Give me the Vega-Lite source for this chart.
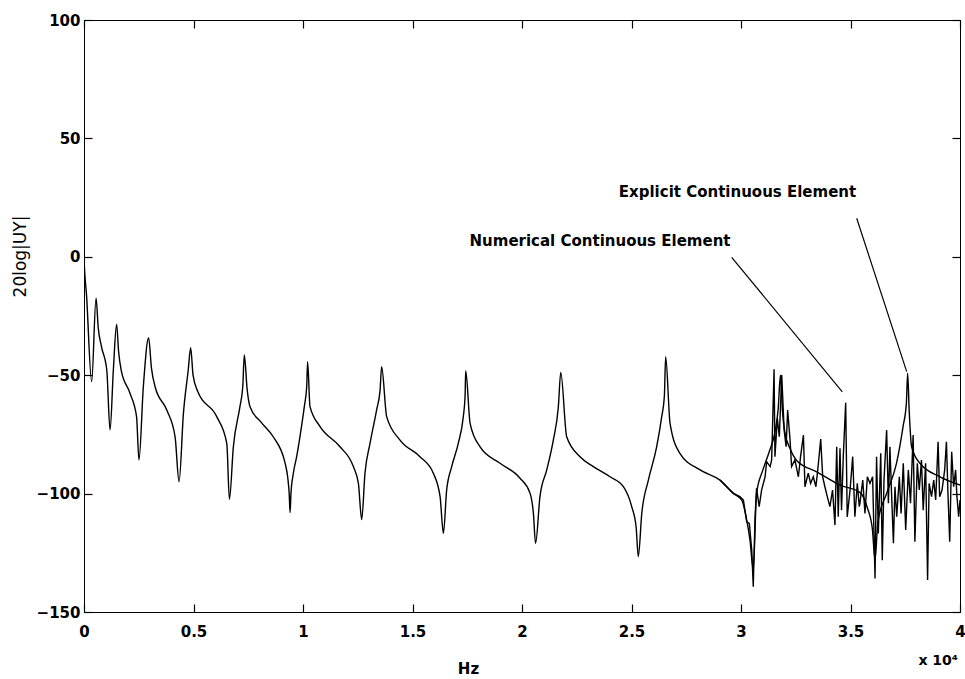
{
  "$schema": "https://vega.github.io/schema/vega-lite/v6.json",
  "width": 876,
  "height": 592,
  "autosize": {"type": "none"},
  "padding": {"left": 84, "top": 20, "right": 5, "bottom": 67},
  "background": "white",
  "config": {
    "view": {"stroke": "black", "strokeWidth": 1},
    "axis": {
      "domain": true, "domainColor": "black", "domainWidth": 1, "ticks": true, "tickColor": "black",
      "labelColor": "black", "titleColor": "black",
      "grid": false, "tickSize": -8, "tickWidth": 1.2, "zindex": 1,
      "labelFont": "DejaVu Sans", "labelFontWeight": "bold", "labelFontSize": 15,
      "titleFont": "DejaVu Sans", "labelFlush": false, "labelOverlap": false
    }
  },
  "datasets": {
    "explicit": [
      {"hz": 0, "db": 45}, {"hz": 1, "db": 0}, {"hz": 120, "db": -16.8}, {"hz": 350, "db": -52.7},
      {"hz": 550, "db": -17.5}, {"hz": 650, "db": -30}, {"hz": 800, "db": -38}, {"hz": 1040, "db": -47.8}, {"hz": 1190, "db": -73.1},
      {"hz": 1340, "db": -47.8}, {"hz": 1490, "db": -28.5}, {"hz": 1580, "db": -40}, {"hz": 1700, "db": -48}, {"hz": 2100, "db": -57.6},
      {"hz": 2400, "db": -67.5}, {"hz": 2510, "db": -85.8}, {"hz": 2710, "db": -54.8}, {"hz": 2950, "db": -34.2},
      {"hz": 3080, "db": -47}, {"hz": 3250, "db": -55}, {"hz": 3780, "db": -64.7}, {"hz": 4160, "db": -76}, {"hz": 4340, "db": -95},
      {"hz": 4540, "db": -66.1}, {"hz": 4760, "db": -47.8}, {"hz": 4870, "db": -38.4}, {"hz": 4980, "db": -50}, {"hz": 5200, "db": -57},
      {"hz": 6060, "db": -67.5}, {"hz": 6520, "db": -78.8}, {"hz": 6640, "db": -102.4}, {"hz": 6820, "db": -80.2},
      {"hz": 7120, "db": -63.3}, {"hz": 7250, "db": -54.8}, {"hz": 7320, "db": -41.5}, {"hz": 7450, "db": -56},
      {"hz": 7580, "db": -63.3}, {"hz": 8100, "db": -70}, {"hz": 8640, "db": -76}, {"hz": 9180, "db": -87},
      {"hz": 9300, "db": -93}, {"hz": 9370, "db": -100}, {"hz": 9410, "db": -108}, {"hz": 9450, "db": -100},
      {"hz": 9560, "db": -91.4}, {"hz": 9710, "db": -84.4}, {"hz": 9860, "db": -76}, {"hz": 10060, "db": -63.3},
      {"hz": 10170, "db": -54.8}, {"hz": 10210, "db": -44.3}, {"hz": 10320, "db": -63.3}, {"hz": 10780, "db": -71.7},
      {"hz": 11690, "db": -80.2}, {"hz": 12300, "db": -88.6}, {"hz": 12530, "db": -95.7}, {"hz": 12680, "db": -111},
      {"hz": 12830, "db": -91.4}, {"hz": 13060, "db": -78.8}, {"hz": 13360, "db": -64.7}, {"hz": 13520, "db": -56.3},
      {"hz": 13590, "db": -46.4}, {"hz": 13820, "db": -67.5}, {"hz": 14430, "db": -77.4}, {"hz": 15340, "db": -84.4},
      {"hz": 15950, "db": -91.4}, {"hz": 16260, "db": -101.3}, {"hz": 16410, "db": -116.8}, {"hz": 16560, "db": -98.5},
      {"hz": 16790, "db": -88.6}, {"hz": 17090, "db": -78.8}, {"hz": 17320, "db": -67.5}, {"hz": 17400, "db": -59},
      {"hz": 17430, "db": -48.1}, {"hz": 17630, "db": -70.3}, {"hz": 18080, "db": -80.2}, {"hz": 19000, "db": -87.2},
      {"hz": 19910, "db": -93.5}, {"hz": 20370, "db": -99.9}, {"hz": 20520, "db": -108.3}, {"hz": 20620, "db": -121},
      {"hz": 20820, "db": -101.3}, {"hz": 21130, "db": -90}, {"hz": 21430, "db": -77.4}, {"hz": 21660, "db": -63.3},
      {"hz": 21770, "db": -48.8}, {"hz": 22040, "db": -76}, {"hz": 22650, "db": -84.4}, {"hz": 23260, "db": -88.6},
      {"hz": 24020, "db": -92.9}, {"hz": 24630, "db": -97.1}, {"hz": 25010, "db": -105.5}, {"hz": 25210, "db": -114},
      {"hz": 25310, "db": -126.6}, {"hz": 25470, "db": -108.3}, {"hz": 25770, "db": -94.3}, {"hz": 26150, "db": -80.2},
      {"hz": 26380, "db": -67.5}, {"hz": 26500, "db": -59}, {"hz": 26560, "db": -42.2}, {"hz": 26760, "db": -70.3},
      {"hz": 27210, "db": -83}, {"hz": 28130, "db": -90}, {"hz": 29040, "db": -94.3}, {"hz": 29650, "db": -99.9},
      {"hz": 30030, "db": -102.7}, {"hz": 30260, "db": -111.1}, {"hz": 30410, "db": -119.6}, {"hz": 30560, "db": -132},
      {"hz": 30710, "db": -100}, {"hz": 31000, "db": -90}, {"hz": 31300, "db": -82}, {"hz": 31550, "db": -74},
      {"hz": 31700, "db": -64}, {"hz": 31800, "db": -50}, {"hz": 31900, "db": -66}, {"hz": 32000, "db": -74},
      {"hz": 32240, "db": -81}, {"hz": 32540, "db": -86}, {"hz": 33500, "db": -91}, {"hz": 34520, "db": -96.4},
      {"hz": 35430, "db": -99.5}, {"hz": 35770, "db": -106}, {"hz": 36000, "db": -115}, {"hz": 36120, "db": -128},
      {"hz": 36250, "db": -112}, {"hz": 36650, "db": -99.9}, {"hz": 37100, "db": -87.2}, {"hz": 37400, "db": -71.7},
      {"hz": 37550, "db": -62}, {"hz": 37610, "db": -49.2}, {"hz": 37680, "db": -65}, {"hz": 37790, "db": -80.2},
      {"hz": 38170, "db": -87.2}, {"hz": 39090, "db": -92.9}, {"hz": 40000, "db": -96.4}
    ],
    "numerical": [
      {"hz": 29040, "db": -94.3}, {"hz": 29650, "db": -99.9}, {"hz": 29950, "db": -101.3}, {"hz": 30110, "db": -102.7},
      {"hz": 30260, "db": -111.9}, {"hz": 30380, "db": -112.6}, {"hz": 30490, "db": -123.8}, {"hz": 30560, "db": -139.3},
      {"hz": 30640, "db": -110.4}, {"hz": 30710, "db": -97.8}, {"hz": 30830, "db": -105.5}, {"hz": 30940, "db": -98.5},
      {"hz": 31100, "db": -92.9}, {"hz": 31170, "db": -86.5}, {"hz": 31330, "db": -88.6}, {"hz": 31400, "db": -85.8},
      {"hz": 31510, "db": -47.5}, {"hz": 31550, "db": -84.4}, {"hz": 31660, "db": -68.2}, {"hz": 31750, "db": -76},
      {"hz": 31860, "db": -49.9}, {"hz": 31970, "db": -73.2}, {"hz": 32060, "db": -80.2}, {"hz": 32130, "db": -64.7},
      {"hz": 32240, "db": -77.4}, {"hz": 32310, "db": -88.6}, {"hz": 32460, "db": -85.8}, {"hz": 32620, "db": -92.9},
      {"hz": 32720, "db": -84.4}, {"hz": 32850, "db": -75.3}, {"hz": 32920, "db": -97.1}, {"hz": 33070, "db": -91.4},
      {"hz": 33180, "db": -95.7}, {"hz": 33300, "db": -92.9}, {"hz": 33420, "db": -97.1}, {"hz": 33520, "db": -88.6},
      {"hz": 33640, "db": -77}, {"hz": 33730, "db": -92.9}, {"hz": 33830, "db": -97.1}, {"hz": 33940, "db": -101.3},
      {"hz": 34060, "db": -105.5}, {"hz": 34180, "db": -98.5}, {"hz": 34290, "db": -113.3}, {"hz": 34370, "db": -80.2},
      {"hz": 34440, "db": -109.8}, {"hz": 34520, "db": -80.9}, {"hz": 34590, "db": -107}, {"hz": 34670, "db": -84.4},
      {"hz": 34780, "db": -61.6}, {"hz": 34850, "db": -109.8}, {"hz": 34980, "db": -98.5}, {"hz": 35100, "db": -84.4},
      {"hz": 35200, "db": -109.8}, {"hz": 35310, "db": -95.7}, {"hz": 35400, "db": -105.5}, {"hz": 35430, "db": -104.1},
      {"hz": 35560, "db": -94.3}, {"hz": 35660, "db": -108.4}, {"hz": 35770, "db": -92.9}, {"hz": 35890, "db": -95.7},
      {"hz": 36010, "db": -92.9}, {"hz": 36120, "db": -135.8}, {"hz": 36190, "db": -84.4}, {"hz": 36270, "db": -116.8},
      {"hz": 36380, "db": -83}, {"hz": 36450, "db": -128.1}, {"hz": 36530, "db": -94.3}, {"hz": 36650, "db": -73.2},
      {"hz": 36730, "db": -104.1}, {"hz": 36800, "db": -80.2}, {"hz": 36880, "db": -101.3}, {"hz": 36960, "db": -121},
      {"hz": 37030, "db": -97.1}, {"hz": 37110, "db": -109.8}, {"hz": 37230, "db": -92.9}, {"hz": 37310, "db": -108.4},
      {"hz": 37410, "db": -87.2}, {"hz": 37520, "db": -115.4}, {"hz": 37640, "db": -90}, {"hz": 37740, "db": -104.1},
      {"hz": 37860, "db": -75.3}, {"hz": 37940, "db": -120.3}, {"hz": 38050, "db": -87.2}, {"hz": 38140, "db": -98.5},
      {"hz": 38240, "db": -85.8}, {"hz": 38320, "db": -107}, {"hz": 38430, "db": -87.2}, {"hz": 38520, "db": -136.5},
      {"hz": 38590, "db": -95.7}, {"hz": 38700, "db": -101.3}, {"hz": 38800, "db": -94.3}, {"hz": 38890, "db": -102.7},
      {"hz": 39000, "db": -78.1}, {"hz": 39070, "db": -101.3}, {"hz": 39180, "db": -98.5}, {"hz": 39300, "db": -90},
      {"hz": 39380, "db": -78.1}, {"hz": 39450, "db": -99.9}, {"hz": 39530, "db": -120.3}, {"hz": 39620, "db": -82.3},
      {"hz": 39710, "db": -97.1}, {"hz": 39800, "db": -90}, {"hz": 39860, "db": -101.3}, {"hz": 39940, "db": -109.8},
      {"hz": 40000, "db": -102.7}
    ],
    "notes": [
      {"label": "Explicit Continuous Element", "tx": 29840, "ty": 27.4, "x1": 35283, "y1": 16.3, "x2": 37566, "y2": -48.5},
      {"label": "Numerical Continuous Element", "tx": 23562, "ty": 6.7, "x1": 29575, "y1": -0.2, "x2": 34626, "y2": -57.0}
    ],
    "unit": [{"hz": 40000, "db": -150, "label": "x 10⁴"}]
  },
  "layer": [
    {
      "data": {"name": "explicit"},
      "mark": {"type": "line", "color": "black", "strokeWidth": 1.4, "interpolate": "monotone", "clip": true},
      "encoding": {
        "x": {"field": "hz", "type": "quantitative",
              "scale": {"domain": [0, 40000], "nice": false, "zero": false},
              "axis": {"orient": "bottom", "values": [0, 5000, 10000, 15000, 20000, 25000, 30000, 35000, 40000],
                       "ticks": true, "tickSize": -8, "zindex": 1,
                       "labelExpr": "datum.value / 10000 + ''", "labelPadding": 20,
                       "title": "Hz", "titleFontSize": 15, "titleFontWeight": "bold",
                       "titleX": 384, "titleY": 56, "titleBaseline": "middle"}},
        "y": {"field": "db", "type": "quantitative",
              "scale": {"domain": [-150, 100], "nice": false, "zero": false},
              "axis": {"orient": "left", "values": [-150, -100, -50, 0, 50, 100], "labelPadding": 12,
                       "ticks": true, "tickSize": -8, "zindex": 1,
                       "title": "20log|UY|", "titleFontSize": 17, "titleFontWeight": "normal",
                       "titleX": -64, "titleY": 236, "titleBaseline": "middle", "titleAngle": -90}}
      }
    },
    {
      "data": {"name": "numerical"},
      "mark": {"type": "line", "color": "black", "strokeWidth": 1.4, "clip": true},
      "encoding": {
        "x": {"field": "hz", "type": "quantitative",
              "axis": {"orient": "top", "values": [0, 5000, 10000, 15000, 20000, 25000, 30000, 35000, 40000],
                       "ticks": true, "tickSize": -8, "zindex": 1, "labels": false, "title": null}},
        "y": {"field": "db", "type": "quantitative",
              "axis": {"orient": "right", "values": [-150, -100, -50, 0, 50, 100],
                       "ticks": true, "tickSize": -8, "zindex": 1, "labels": false, "title": null}}
      }
    },
    {
      "data": {"name": "notes"},
      "mark": {"type": "rule", "color": "black", "strokeWidth": 1.2},
      "encoding": {
        "x": {"field": "x1", "type": "quantitative", "axis": null},
        "y": {"field": "y1", "type": "quantitative", "axis": null},
        "x2": {"field": "x2"},
        "y2": {"field": "y2"}
      }
    },
    {
      "data": {"name": "notes"},
      "mark": {"type": "text", "font": "DejaVu Sans", "fontWeight": "bold", "fontSize": 15, "color": "black", "align": "center", "baseline": "middle"},
      "encoding": {
        "x": {"field": "tx", "type": "quantitative", "axis": null},
        "y": {"field": "ty", "type": "quantitative", "axis": null},
        "text": {"field": "label"}
      }
    },
    {
      "data": {"name": "unit"},
      "mark": {"type": "text", "font": "DejaVu Sans", "fontWeight": "bold", "fontSize": 14, "color": "black", "align": "right", "baseline": "middle", "dx": -2, "dy": 49},
      "encoding": {
        "x": {"field": "hz", "type": "quantitative", "axis": null},
        "y": {"field": "db", "type": "quantitative", "axis": null},
        "text": {"field": "label"}
      }
    }
  ],
  "resolve": {"axis": {"x": "independent", "y": "independent"}}
}
